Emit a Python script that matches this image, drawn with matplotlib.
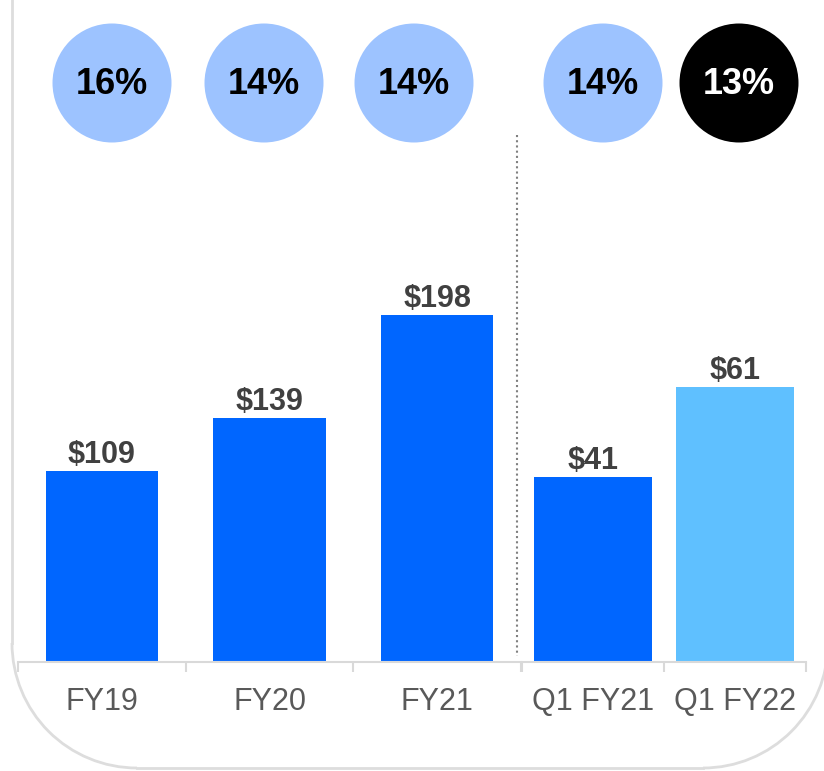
import matplotlib.pyplot as plt
from matplotlib.patches import Arc, Circle

plt.rcParams['font.family'] = ['Liberation Sans', 'DejaVu Sans']

# annual and quarterly values (each group drawn on its own scale)
annual_labels = ['FY19', 'FY20', 'FY21']
annual_values = [109, 139, 198]
quarter_labels = ['Q1 FY21', 'Q1 FY22']
quarter_values = [41, 61]

pct_labels = ['16%', '14%', '14%', '14%', '13%']
pct_colors = ['#9DC3FF', '#9DC3FF', '#9DC3FF', '#9DC3FF', '#000000']
pct_text_colors = ['black', 'black', 'black', 'black', 'white']
pct_x = [112, 264, 414, 603, 739]  # circle centers, px

blue = '#0066FF'
light = '#5FC0FF'
gray_line = '#D9D9D9'

W, H = 824, 771
fig = plt.figure(figsize=(W / 100, H / 100), dpi=100)

base = 662
top = 130
ax_h = (base - top) / H
ax1 = fig.add_axes([18 / W, 1 - base / H, (521 - 18) / W, ax_h])
ax2 = fig.add_axes([522 / W, 1 - base / H, (806 - 522) / W, ax_h])


def style(ax, labels, values, colors, width, ymax):
    x = list(range(len(values)))
    bars = ax.bar(x, values, width=width, color=colors)
    ax.set_xlim(-0.5, len(values) - 0.5)
    ax.set_ylim(0, ymax)
    for b, v in zip(bars, values):
        ax.annotate(f'${v}', (b.get_x() + b.get_width() / 2, v),
                    xytext=(0, 1), textcoords='offset points',
                    ha='center', va='bottom', fontsize=22,
                    fontweight='bold', color='#404040')
    for s in ['top', 'left', 'right']:
        ax.spines[s].set_visible(False)
    ax.spines['bottom'].set_color(gray_line)
    ax.spines['bottom'].set_linewidth(1.5)
    ax.set_yticks([])
    ax.set_xticks(x)
    ax.set_xticklabels(labels, fontsize=22, color='#595959')
    ax.tick_params(axis='x', which='major', length=0, pad=18)
    ax.set_xticks([i - 0.5 for i in range(len(values) + 1)], minor=True)
    ax.tick_params(axis='x', which='minor', length=7, width=1.5,
                   color=gray_line, direction='out')
    ax.patch.set_alpha(0)


style(ax1, annual_labels, annual_values, [blue] * 3, 0.668, (base - top) / 1.753)
style(ax2, quarter_labels, quarter_values, [blue, light], 0.838, (base - top) / 4.51)

# overlay in pixel units (y measured from the bottom) for frame and divider
ov = fig.add_axes([0, 0, 1, 1], zorder=-1)
ov.set_xlim(0, W)
ov.set_ylim(0, H)
ov.axis('off')
r = 125
x0, x1, yb = 12, 828, H - 768
frame = dict(color='#DDDDDD', lw=2)
ov.plot([x0, x0], [H + 5, yb + r], **frame)
ov.plot([x1, x1], [H + 5, yb + r], **frame)
ov.plot([x0 + r, x1 - r], [yb, yb], **frame)
ov.add_patch(Arc((x0 + r, yb + r), 2 * r, 2 * r, theta1=180, theta2=270,
                 ec='#DDDDDD', lw=2))
ov.add_patch(Arc((x1 - r, yb + r), 2 * r, 2 * r, theta1=270, theta2=360,
                 ec='#DDDDDD', lw=2))
ov.plot([517, 517], [H - 135, H - 656], color='#808080', lw=1.5, ls=(0, (1, 1.5)))

ov2 = fig.add_axes([0, 0, 1, 1], zorder=5)
ov2.set_xlim(0, W)
ov2.set_ylim(0, H)
ov2.axis('off')
for cx, t, c, tc in zip(pct_x, pct_labels, pct_colors, pct_text_colors):
    ov2.add_patch(Circle((cx, H - 83), 59.5, color=c, lw=0))
    ov2.text(cx, H - 85, t, ha='center', va='center', fontsize=26,
             fontweight='bold', color=tc)

fig.savefig('out.png', dpi=100)
